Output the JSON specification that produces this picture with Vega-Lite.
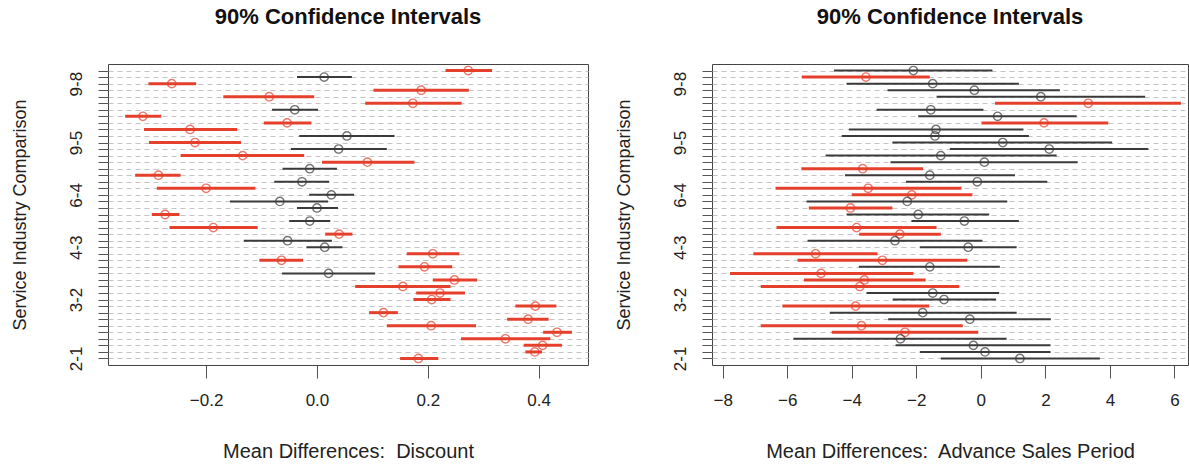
{
  "$schema": "https://vega.github.io/schema/vega-lite/v6.json",
  "background": "white",
  "padding": {"left": 10, "top": 5, "right": 0, "bottom": 0},
  "spacing": 25,
  "config": {
    "font": "Liberation Sans",
    "view": {"stroke": "#444444", "strokeWidth": 1},
    "axis": {
      "labelFont": "Liberation Sans",
      "titleFont": "Liberation Sans",
      "labelFontSize": 17,
      "titleFontSize": 18,
      "labelColor": "#222222",
      "titleColor": "#222222",
      "titleFontWeight": "normal",
      "tickColor": "#555555",
      "domain": false
    },
    "title": {"font": "Liberation Sans", "fontSize": 22, "fontWeight": "bold", "color": "#111111", "anchor": "middle", "frame": "group", "offset": 35}
  },
  "datasets": {
    "discount": [
      {"comp": "10-9", "diff": 0.273, "lwr": 0.232, "upr": 0.316, "sig": "yes"},
      {"comp": "10-8", "diff": 0.013, "lwr": -0.036, "upr": 0.063, "sig": "no"},
      {"comp": "9-8", "diff": -0.262, "lwr": -0.304, "upr": -0.218, "sig": "yes"},
      {"comp": "10-7", "diff": 0.188, "lwr": 0.102, "upr": 0.274, "sig": "yes"},
      {"comp": "9-7", "diff": -0.086, "lwr": -0.169, "upr": -0.005, "sig": "yes"},
      {"comp": "8-7", "diff": 0.173, "lwr": 0.087, "upr": 0.261, "sig": "yes"},
      {"comp": "10-6", "diff": -0.040, "lwr": -0.081, "upr": 0.002, "sig": "no"},
      {"comp": "9-6", "diff": -0.314, "lwr": -0.346, "upr": -0.281, "sig": "yes"},
      {"comp": "8-6", "diff": -0.054, "lwr": -0.096, "upr": -0.010, "sig": "yes"},
      {"comp": "7-6", "diff": -0.229, "lwr": -0.312, "upr": -0.144, "sig": "yes"},
      {"comp": "10-5", "diff": 0.054, "lwr": -0.032, "upr": 0.140, "sig": "no"},
      {"comp": "9-5", "diff": -0.220, "lwr": -0.303, "upr": -0.137, "sig": "yes"},
      {"comp": "8-5", "diff": 0.039, "lwr": -0.047, "upr": 0.126, "sig": "no"},
      {"comp": "7-5", "diff": -0.134, "lwr": -0.246, "upr": -0.023, "sig": "yes"},
      {"comp": "6-5", "diff": 0.091, "lwr": 0.009, "upr": 0.176, "sig": "yes"},
      {"comp": "10-4", "diff": -0.013, "lwr": -0.062, "upr": 0.036, "sig": "no"},
      {"comp": "9-4", "diff": -0.286, "lwr": -0.328, "upr": -0.246, "sig": "yes"},
      {"comp": "8-4", "diff": -0.027, "lwr": -0.077, "upr": 0.022, "sig": "no"},
      {"comp": "7-4", "diff": -0.200, "lwr": -0.289, "upr": -0.111, "sig": "yes"},
      {"comp": "6-4", "diff": 0.026, "lwr": -0.014, "upr": 0.067, "sig": "no"},
      {"comp": "5-4", "diff": -0.067, "lwr": -0.157, "upr": 0.020, "sig": "no"},
      {"comp": "10-3", "diff": 0.000, "lwr": -0.036, "upr": 0.038, "sig": "no"},
      {"comp": "9-3", "diff": -0.274, "lwr": -0.298, "upr": -0.248, "sig": "yes"},
      {"comp": "8-3", "diff": -0.013, "lwr": -0.050, "upr": 0.024, "sig": "no"},
      {"comp": "7-3", "diff": -0.187, "lwr": -0.266, "upr": -0.107, "sig": "yes"},
      {"comp": "6-3", "diff": 0.040, "lwr": 0.015, "upr": 0.064, "sig": "yes"},
      {"comp": "5-3", "diff": -0.053, "lwr": -0.132, "upr": 0.027, "sig": "no"},
      {"comp": "4-3", "diff": 0.014, "lwr": -0.019, "upr": 0.046, "sig": "no"},
      {"comp": "10-2", "diff": 0.209, "lwr": 0.162, "upr": 0.257, "sig": "yes"},
      {"comp": "9-2", "diff": -0.064, "lwr": -0.104, "upr": -0.025, "sig": "yes"},
      {"comp": "8-2", "diff": 0.194, "lwr": 0.147, "upr": 0.244, "sig": "yes"},
      {"comp": "7-2", "diff": 0.021, "lwr": -0.063, "upr": 0.105, "sig": "no"},
      {"comp": "6-2", "diff": 0.248, "lwr": 0.209, "upr": 0.289, "sig": "yes"},
      {"comp": "5-2", "diff": 0.155, "lwr": 0.069, "upr": 0.241, "sig": "yes"},
      {"comp": "4-2", "diff": 0.222, "lwr": 0.179, "upr": 0.267, "sig": "yes"},
      {"comp": "3-2", "diff": 0.207, "lwr": 0.174, "upr": 0.241, "sig": "yes"},
      {"comp": "10-1", "diff": 0.394, "lwr": 0.358, "upr": 0.432, "sig": "yes"},
      {"comp": "9-1", "diff": 0.120, "lwr": 0.094, "upr": 0.146, "sig": "yes"},
      {"comp": "8-1", "diff": 0.381, "lwr": 0.343, "upr": 0.418, "sig": "yes"},
      {"comp": "7-1", "diff": 0.206, "lwr": 0.126, "upr": 0.287, "sig": "yes"},
      {"comp": "6-1", "diff": 0.433, "lwr": 0.408, "upr": 0.460, "sig": "yes"},
      {"comp": "5-1", "diff": 0.340, "lwr": 0.260, "upr": 0.421, "sig": "yes"},
      {"comp": "4-1", "diff": 0.407, "lwr": 0.373, "upr": 0.442, "sig": "yes"},
      {"comp": "3-1", "diff": 0.393, "lwr": 0.376, "upr": 0.406, "sig": "yes"},
      {"comp": "2-1", "diff": 0.183, "lwr": 0.150, "upr": 0.219, "sig": "yes"}
    ],
    "advance": [
      {"comp": "10-9", "diff": -2.09, "lwr": -4.55, "upr": 0.36, "sig": "no"},
      {"comp": "10-8", "diff": -3.56, "lwr": -5.55, "upr": -1.58, "sig": "yes"},
      {"comp": "9-8", "diff": -1.49, "lwr": -4.16, "upr": 1.18, "sig": "no"},
      {"comp": "10-7", "diff": -0.20, "lwr": -2.89, "upr": 2.45, "sig": "no"},
      {"comp": "9-7", "diff": 1.86, "lwr": -1.37, "upr": 5.09, "sig": "no"},
      {"comp": "8-7", "diff": 3.33, "lwr": 0.44, "upr": 6.20, "sig": "yes"},
      {"comp": "10-6", "diff": -1.55, "lwr": -3.23, "upr": 0.08, "sig": "no"},
      {"comp": "9-6", "diff": 0.52, "lwr": -1.94, "upr": 2.97, "sig": "no"},
      {"comp": "8-6", "diff": 1.96, "lwr": 0.02, "upr": 3.95, "sig": "yes"},
      {"comp": "7-6", "diff": -1.39, "lwr": -4.09, "upr": 1.32, "sig": "no"},
      {"comp": "10-5", "diff": -1.42, "lwr": -4.31, "upr": 1.49, "sig": "no"},
      {"comp": "9-5", "diff": 0.68, "lwr": -2.74, "upr": 4.07, "sig": "no"},
      {"comp": "8-5", "diff": 2.12, "lwr": -0.96, "upr": 5.19, "sig": "no"},
      {"comp": "7-5", "diff": -1.24, "lwr": -4.81, "upr": 2.35, "sig": "no"},
      {"comp": "6-5", "diff": 0.11, "lwr": -2.80, "upr": 3.00, "sig": "no"},
      {"comp": "10-4", "diff": -3.66, "lwr": -5.56, "upr": -1.79, "sig": "yes"},
      {"comp": "9-4", "diff": -1.58, "lwr": -4.21, "upr": 1.06, "sig": "no"},
      {"comp": "8-4", "diff": -0.11, "lwr": -2.32, "upr": 2.06, "sig": "no"},
      {"comp": "7-4", "diff": -3.49, "lwr": -6.36, "upr": -0.60, "sig": "yes"},
      {"comp": "6-4", "diff": -2.14, "lwr": -4.00, "upr": -0.26, "sig": "yes"},
      {"comp": "5-4", "diff": -2.28, "lwr": -5.40, "upr": 0.82, "sig": "no"},
      {"comp": "10-3", "diff": -4.04, "lwr": -5.33, "upr": -2.74, "sig": "yes"},
      {"comp": "9-3", "diff": -1.94, "lwr": -4.16, "upr": 0.26, "sig": "no"},
      {"comp": "8-3", "diff": -0.51, "lwr": -2.15, "upr": 1.18, "sig": "no"},
      {"comp": "7-3", "diff": -3.85, "lwr": -6.33, "upr": -1.37, "sig": "yes"},
      {"comp": "6-3", "diff": -2.51, "lwr": -3.77, "upr": -1.24, "sig": "yes"},
      {"comp": "5-3", "diff": -2.66, "lwr": -5.37, "upr": 0.05, "sig": "no"},
      {"comp": "4-3", "diff": -0.39, "lwr": -1.89, "upr": 1.11, "sig": "no"},
      {"comp": "10-2", "diff": -5.12, "lwr": -7.05, "upr": -3.20, "sig": "yes"},
      {"comp": "9-2", "diff": -3.05, "lwr": -5.68, "upr": -0.42, "sig": "yes"},
      {"comp": "8-2", "diff": -1.58, "lwr": -3.78, "upr": 0.59, "sig": "no"},
      {"comp": "7-2", "diff": -4.95, "lwr": -7.77, "upr": -2.09, "sig": "yes"},
      {"comp": "6-2", "diff": -3.61, "lwr": -5.48, "upr": -1.71, "sig": "yes"},
      {"comp": "5-2", "diff": -3.75, "lwr": -6.82, "upr": -0.67, "sig": "yes"},
      {"comp": "4-2", "diff": -1.49, "lwr": -3.54, "upr": 0.57, "sig": "no"},
      {"comp": "3-2", "diff": -1.14, "lwr": -2.73, "upr": 0.47, "sig": "no"},
      {"comp": "10-1", "diff": -3.88, "lwr": -6.15, "upr": -1.60, "sig": "yes"},
      {"comp": "9-1", "diff": -1.80, "lwr": -4.68, "upr": 1.11, "sig": "no"},
      {"comp": "8-1", "diff": -0.34, "lwr": -2.87, "upr": 2.17, "sig": "no"},
      {"comp": "7-1", "diff": -3.70, "lwr": -6.82, "upr": -0.56, "sig": "yes"},
      {"comp": "6-1", "diff": -2.35, "lwr": -4.62, "upr": -0.08, "sig": "yes"},
      {"comp": "5-1", "diff": -2.49, "lwr": -5.81, "upr": 0.80, "sig": "no"},
      {"comp": "4-1", "diff": -0.23, "lwr": -2.64, "upr": 2.16, "sig": "no"},
      {"comp": "3-1", "diff": 0.13, "lwr": -1.89, "upr": 2.16, "sig": "no"},
      {"comp": "2-1", "diff": 1.21, "lwr": -1.24, "upr": 3.69, "sig": "no"}
    ]
  },
  "hconcat": [
    {
      "width": 480,
      "height": 301,
      "title": {"text": "90% Confidence Intervals"},
      "data": {"name": "discount"},
      "encoding": {
        "y": {
          "field": "comp",
          "type": "ordinal",
          "sort": ["10-9","10-8","9-8","10-7","9-7","8-7","10-6","9-6","8-6","7-6","10-5","9-5","8-5","7-5","6-5","10-4","9-4","8-4","7-4","6-4","5-4","10-3","9-3","8-3","7-3","6-3","5-3","4-3","10-2","9-2","8-2","7-2","6-2","5-2","4-2","3-2","10-1","9-1","8-1","7-1","6-1","5-1","4-1","3-1","2-1"],
          "scale": {"type": "point", "padding": 1.78},
          "axis": {
            "title": "Service Industry Comparison",
            "labelAngle": -90,
            "labelOverlap": false,
            "labelExpr": "indexof(['2-1','3-2','4-3','6-4','9-5','9-8'], datum.label) >= 0 ? datum.label : ''",
            "tickSize": 10,
            "labelPadding": 13,
            "titlePadding": 38,
            "grid": true,
            "gridDash": [5, 4],
            "gridColor": "#c4c4c4",
            "gridWidth": 1
          }
        }
      },
      "layer": [
        {
          "mark": {"type": "rule"},
          "encoding": {
            "x": {
              "field": "lwr",
              "type": "quantitative",
              "scale": {"domain": [-0.377, 0.489], "nice": false, "zero": false},
              "axis": {"title": "Mean Differences:\u00a0 Discount", "titleFontSize": 20, "values": [-0.2, 0, 0.2, 0.4], "format": ".1f", "tickSize": 13, "labelPadding": 14, "titlePadding": 33, "grid": false, "labelFlush": false}
            },
            "x2": {"field": "upr"},
            "color": {"field": "sig", "type": "nominal", "scale": {"domain": ["yes", "no"], "range": ["#e5402c", "#3a3a3a"]}, "legend": null},
            "strokeWidth": {"field": "sig", "type": "nominal", "scale": {"domain": ["yes", "no"], "range": [3, 2]}, "legend": null}
          }
        },
        {
          "mark": {"type": "point", "shape": "circle", "filled": false, "size": 70, "strokeWidth": 1.4},
          "encoding": {
            "x": {"field": "diff", "type": "quantitative"},
            "color": {"field": "sig", "type": "nominal", "legend": null}
          }
        }
      ]
    },
    {
      "width": 476,
      "height": 301,
      "title": {"text": "90% Confidence Intervals"},
      "data": {"name": "advance"},
      "encoding": {
        "y": {
          "field": "comp",
          "type": "ordinal",
          "sort": ["10-9","10-8","9-8","10-7","9-7","8-7","10-6","9-6","8-6","7-6","10-5","9-5","8-5","7-5","6-5","10-4","9-4","8-4","7-4","6-4","5-4","10-3","9-3","8-3","7-3","6-3","5-3","4-3","10-2","9-2","8-2","7-2","6-2","5-2","4-2","3-2","10-1","9-1","8-1","7-1","6-1","5-1","4-1","3-1","2-1"],
          "scale": {"type": "point", "padding": 1.78},
          "axis": {
            "title": "Service Industry Comparison",
            "labelAngle": -90,
            "labelOverlap": false,
            "labelExpr": "indexof(['2-1','3-2','4-3','6-4','9-5','9-8'], datum.label) >= 0 ? datum.label : ''",
            "tickSize": 10,
            "labelPadding": 13,
            "titlePadding": 38,
            "grid": true,
            "gridDash": [5, 4],
            "gridColor": "#c4c4c4",
            "gridWidth": 1
          }
        }
      },
      "layer": [
        {
          "mark": {"type": "rule"},
          "encoding": {
            "x": {
              "field": "lwr",
              "type": "quantitative",
              "scale": {"domain": [-8.33, 6.42], "nice": false, "zero": false},
              "axis": {"title": "Mean Differences:\u00a0 Advance Sales Period", "titleFontSize": 20, "values": [-8, -6, -4, -2, 0, 2, 4, 6], "format": "d", "tickSize": 13, "labelPadding": 14, "titlePadding": 33, "grid": false, "labelFlush": false}
            },
            "x2": {"field": "upr"},
            "color": {"field": "sig", "type": "nominal", "scale": {"domain": ["yes", "no"], "range": ["#e5402c", "#3a3a3a"]}, "legend": null},
            "strokeWidth": {"field": "sig", "type": "nominal", "scale": {"domain": ["yes", "no"], "range": [3, 2]}, "legend": null}
          }
        },
        {
          "mark": {"type": "point", "shape": "circle", "filled": false, "size": 70, "strokeWidth": 1.4},
          "encoding": {
            "x": {"field": "diff", "type": "quantitative"},
            "color": {"field": "sig", "type": "nominal", "legend": null}
          }
        }
      ]
    }
  ]
}
